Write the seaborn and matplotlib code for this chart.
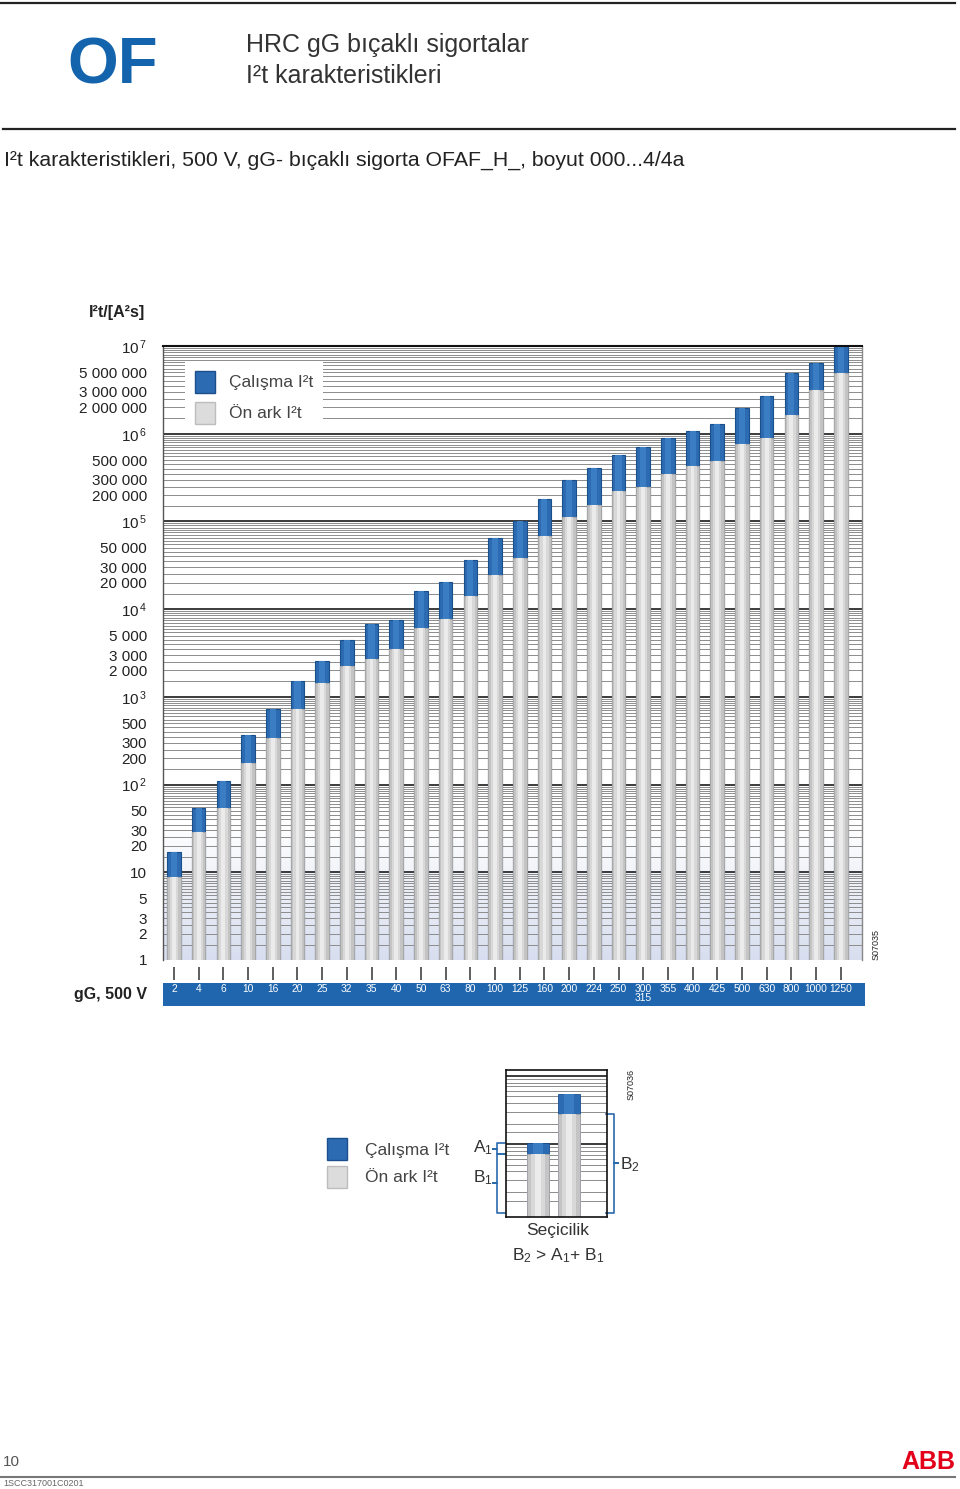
import numpy as np
import pandas as pd
import matplotlib
matplotlib.use("Agg")
import matplotlib.pyplot as plt
import seaborn as sns
from matplotlib.patches import Patch
from matplotlib.lines import Line2D
from matplotlib.ticker import FixedLocator, FuncFormatter
from matplotlib.colors import to_rgb

# ---------------- data ----------------
currents = ['2', '4', '6', '10', '16', '20', '25', '32', '35', '40', '50', '63', '80',
            '100', '125', '160', '200', '224', '250', '300\n315', '355', '400', '425',
            '500', '630', '800', '1000', '1250']
pre_arc_i2t = [8.9, 28.9, 53.4, 174, 340, 722, 1440, 2230, 2730, 3550, 6100, 7800, 14000,
               24700, 38200, 68000, 111000, 155000, 221000, 246000, 346000, 423000, 495000,
               754000, 898000, 1640000, 3160000, 4940000]
total_i2t = [17.1, 53.4, 109, 365, 722, 1510, 2540, 4410, 6840, 7450, 15950, 20360, 35900,
             65200, 100000, 178000, 293000, 405000, 579000, 702000, 905000, 1087000, 1283000,
             1950000, 2720000, 4980000, 6350000, 10100000]
legend_labels = ['Çalışma I²t', 'Ön ark I²t']

sel_fuses = ['A', 'B']
sel_pre = [7.1, 27.5]
sel_total = [10.5, 54.6]

# ---------------- style ----------------
plt.rcParams['font.family'] = ['Liberation Sans', 'DejaVu Sans']
plt.rcParams['mathtext.fontset'] = 'custom'
plt.rcParams['mathtext.rm'] = 'Liberation Sans'
plt.rcParams['mathtext.it'] = 'Liberation Sans:italic'
plt.rcParams['mathtext.bf'] = 'Liberation Sans:bold'

BLUE = '#2c6bb2'
BLUE_EDGE = '#1b4f8c'
BLUE_HI = '#3b7dc3'
GRAY = '#c4c4c4'
GRAY_EDGE = '#a8a8a8'
GRAY_MID = '#d8d8d8'
GRAY_HI = '#ebebeb'
BAND = '#1f66ae'
TXT = '#333333'

W, H = 960, 1489
fig = plt.figure(figsize=(W / 100, H / 100), dpi=100)


def fx(px):
    return px / W


def fy(py):
    return 1 - py / H


def draw_bars(ax, cats, pre, tot, width, lw=0.8):
    df = pd.DataFrame({'cat': cats, 'pre': pre, 'tot': tot})
    common = dict(data=df, x='cat', order=cats, saturation=1, errorbar=None, ax=ax)
    sns.barplot(y='tot', color=BLUE, width=width, edgecolor=BLUE_EDGE, linewidth=lw,
                zorder=2, **common)
    sns.barplot(y='tot', color=BLUE_HI, width=width * 0.45, linewidth=0, zorder=2.1, **common)
    sns.barplot(y='pre', color=GRAY, width=width, edgecolor=GRAY_EDGE, linewidth=lw,
                zorder=2.2, **common)
    sns.barplot(y='pre', color=GRAY_MID, width=width * 0.62, linewidth=0, zorder=2.3, **common)
    sns.barplot(y='pre', color=GRAY_HI, width=width * 0.28, linewidth=0, zorder=2.4, **common)


# ---------------- main chart ----------------
ax_l, ax_r, ax_t, ax_b = 163, 862, 346, 960
ax = fig.add_axes([fx(ax_l), fy(ax_b), fx(ax_r) - fx(ax_l), fy(ax_t) - fy(ax_b)])
ax.set_yscale('log')
XLIM = (-0.445, 27.86)
YLIM = (1, 1e7)
ax.set_xlim(*XLIM)
ax.set_ylim(*YLIM)
ax.set_autoscale_on(False)

# soft tint at the bottom of the plot area
grad = np.zeros((64, 1, 4))
grad[..., :3] = to_rgb('#d8deef')
grad[:, 0, 3] = np.linspace(0, 1, 64)
ax.imshow(grad, extent=[0, 1, 0, 0.22], transform=ax.transAxes, aspect='auto',
          zorder=0.2, interpolation='bilinear')

draw_bars(ax, currents, pre_arc_i2t, total_i2t, 0.55)

ax.set_xlim(*XLIM)
ax.set_ylim(*YLIM)
ax.set_xlabel('')
ax.set_ylabel('')

major_vals = 10.0 ** np.arange(1, 8)
minor_vals = [1.0] + [m * 10.0 ** k for k in range(7) for m in np.arange(1.5, 10, 0.5)]
ax.yaxis.set_major_locator(FixedLocator(major_vals))
ax.yaxis.set_minor_locator(FixedLocator(minor_vals))


def fmt_major(v, pos):
    e = int(round(np.log10(v)))
    if e == 1:
        return '10'
    return r'$10^{\,%d}$' % e


def fmt_minor(v, pos):
    if v <= 0:
        return ''
    e = np.floor(np.log10(v) + 1e-9)
    m = round(v / 10 ** e, 3)
    if abs(v - 1) < 1e-9:
        return '1'
    if m in (2.0, 3.0, 5.0):
        return f'{int(round(v)):,}'.replace(',', ' ')
    return ''


ax.yaxis.set_major_formatter(FuncFormatter(fmt_major))
ax.yaxis.set_minor_formatter(FuncFormatter(fmt_minor))
ax.tick_params(axis='y', which='both', length=0, pad=11.5, labelsize=11, labelcolor='#222222')
ax.grid(False, axis='x')
ax.grid(True, which='major', axis='y', color='#1a1a1a', lw=1.2, zorder=0.5)
ax.grid(True, which='minor', axis='y', color='#8c8c8c', lw=0.7, zorder=0.5)
ax.set_axisbelow(True)

ax.spines['bottom'].set_position(('outward', 5))
ax.spines['bottom'].set_visible(False)
ax.spines['top'].set_color('#111111')
ax.spines['top'].set_linewidth(1.5)
ax.spines['left'].set_color('#555555')
ax.spines['left'].set_linewidth(1.0)
ax.spines['right'].set_color('#888888')
ax.spines['right'].set_linewidth(1.0)
ax.tick_params(axis='x', which='major', direction='out', length=9.5, width=1.1,
               color='#333333', labelbottom=False)
ax.tick_params(axis='x', which='minor', length=0)

handles = [Patch(facecolor=BLUE, edgecolor=BLUE_EDGE), Patch(facecolor='#dcdcdc', edgecolor='#bdbdbd')]
leg = ax.legend(handles, legend_labels, loc='upper left',
                bbox_to_anchor=((185 - ax_l) / (ax_r - ax_l), (ax_b - 361) / (ax_b - ax_t)),
                borderaxespad=0, borderpad=0.55, handlelength=1.15, handleheight=1.6,
                handletextpad=0.85, labelspacing=0.5, fontsize=12.5, labelcolor='#444444',
                frameon=True, fancybox=False, framealpha=1, facecolor='white')
leg.get_frame().set_edgecolor('none')
leg.get_frame().set_linewidth(0)

# blue band with current ratings
axb = fig.add_axes([fx(ax_l), fy(1006), fx(ax_r + 3) - fx(ax_l), fy(983) - fy(1006)])
axb.set_facecolor(BAND)
unit = (ax_r - ax_l) / (XLIM[1] - XLIM[0])
axb.set_xlim(XLIM[0], XLIM[0] + (ax_r + 3 - ax_l) / unit)
axb.set_ylim(0, 1)
for s in axb.spines.values():
    s.set_visible(False)
axb.set_xticks([])
axb.set_yticks([])
for i, lab in enumerate(currents):
    axb.text(i, 0.95, lab, ha='center', va='top', color='white', fontsize=7.4, linespacing=0.9)

# ---------------- texts ----------------
fig.text(fx(89), fy(313), 'I²t/[A²s]', fontsize=11.5, fontweight='bold', ha='left', va='center',
         color='#222222')
fig.text(fx(147), fy(995), 'gG, 500 V', fontsize=11.5, fontweight='bold', ha='right', va='center',
         color='#222222')
fig.text(fx(876), fy(944), 'S07035', rotation=90, fontsize=6.5, ha='center', va='center',
         color='#222222')

# header
fig.add_artist(Line2D([0, fx(955)], [fy(3), fy(3)], color='#222222', lw=1.6,
                      transform=fig.transFigure))
fig.add_artist(Line2D([fx(3), fx(955)], [fy(129), fy(129)], color='#222222', lw=1.6,
                      transform=fig.transFigure))
fig.text(fx(113), fy(66), 'OF', fontsize=47, fontweight='bold', color='#1464ad',
         ha='center', va='center')
fig.text(fx(246), fy(45), 'HRC gG bıçaklı sigortalar', fontsize=18, color=TXT, ha='left', va='center')
fig.text(fx(246), fy(76), 'I²t karakteristikleri', fontsize=18, color=TXT, ha='left', va='center')
fig.text(fx(4), fy(160), 'I²t karakteristikleri, 500 V, gG- bıçaklı sigorta OFAF_H_, boyut 000...4/4a',
         fontsize=15.3, color='#222222', ha='left', va='center')

# ---------------- selectivity sketch ----------------
axs = fig.add_axes([fx(506), fy(1216.7), fx(607) - fx(506), fy(1070) - fy(1216.7)])
axs.set_yscale('log')
SXLIM = (-1.03, 2.23)
SYLIM = (0.87, 122)
axs.set_xlim(*SXLIM)
axs.set_ylim(*SYLIM)
draw_bars(axs, sel_fuses, sel_pre, sel_total, 0.71, lw=0.6)
axs.set_xlim(*SXLIM)
axs.set_ylim(*SYLIM)
axs.set_xlabel('')
axs.set_ylabel('')
axs.yaxis.set_major_locator(FixedLocator([10.0, 100.0]))
axs.yaxis.set_minor_locator(FixedLocator([m * 10.0 ** k for k in range(3)
                                          for m in (1.5, 2, 3, 4, 5, 6, 7, 8, 9)]))
axs.grid(True, which='major', axis='y', color='#1a1a1a', lw=1.2)
axs.grid(True, which='minor', axis='y', color='#8c8c8c', lw=0.7)
axs.grid(False, axis='x')
axs.set_axisbelow(True)
axs.tick_params(axis='both', which='both', length=0, labelleft=False, labelbottom=False)
for s in axs.spines.values():
    s.set_color('#111111')
    s.set_linewidth(1.2)

BR = '#2a6aad'
tr = axs.get_yaxis_transform()


def brace(y0, y1, xv, xe, xn):
    ym = np.sqrt(y0 * y1)
    axs.add_line(Line2D([xe, xv, xv, xn, xv, xv, xe], [y0, y0, ym, ym, ym, y1, y1],
                        transform=tr, color=BR, lw=1.2, clip_on=False))


brace(sel_pre[0], sel_total[0], -0.09, -0.01, -0.125)
brace(1.0, sel_pre[0], -0.09, -0.01, -0.125)
brace(1.0, sel_pre[1], 1.07, 0.99, 1.105)

fig.text(fx(473), fy(1148), 'A$_1$', fontsize=12.5, color=TXT, ha='left', va='center')
fig.text(fx(473), fy(1178), 'B$_1$', fontsize=12.5, color=TXT, ha='left', va='center')
fig.text(fx(620), fy(1165), 'B$_2$', fontsize=12.5, color=TXT, ha='left', va='center')
fig.text(fx(558), fy(1230), 'Seçicilik', fontsize=12.5, color=TXT, ha='center', va='center')
fig.text(fx(558), fy(1256), 'B$_2$ > A$_1$+ B$_1$', fontsize=12.5, color=TXT, ha='center', va='center')
fig.text(fx(631), fy(1084), 'S07036', rotation=90, fontsize=6.5, ha='center', va='center',
         color='#222222')

fig.legend(handles, legend_labels, loc='upper left', bbox_to_anchor=(fx(327), fy(1138)),
           borderaxespad=0, borderpad=0, frameon=False, handlelength=1.15, handleheight=1.6,
           handletextpad=1.05, labelspacing=0.3, fontsize=12.5, labelcolor='#444444')

# ---------------- footer ----------------
fig.text(fx(3), fy(1462), '10', fontsize=11, color='#555555', ha='left', va='center')
fig.add_artist(Line2D([0, fx(955)], [fy(1477), fy(1477)], color='#777777', lw=1.5,
                      transform=fig.transFigure))
fig.text(fx(3), fy(1484), '1SCC317001C0201', fontsize=6.5, color='#666666', ha='left', va='center')
fig.text(fx(955), fy(1462), 'ABB', fontsize=18, fontweight='bold', color='#e2001a', ha='right',
         va='center')

fig.savefig('out.png', dpi=100)
